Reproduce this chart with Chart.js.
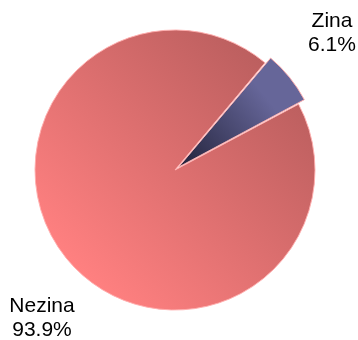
<!DOCTYPE html>
<html>
<head>
<meta charset="utf-8">
<title>Zina / Nezina</title>
<script src="https://cdn.jsdelivr.net/npm/chart.js@4/dist/chart.umd.min.js"></script>
<style>
    html, body { margin: 0; padding: 0; background: #ffffff; }
    #wrap { width: 358px; height: 340px; position: relative; }
</style>
</head>
<body>
<div id="wrap"><canvas id="pie"></canvas></div>
<script>
// Share of answers
const categories = ['Zina', 'Nezina'];
const shares = [6.1, 93.9];
const shareLabels = ['6.1%', '93.9%'];

// Gradient stops per slice: [dark, light]
const sliceColors = [
    ['#22223a', '#666699'],
    ['#bc5f5f', '#ff8080']
];

// Where each two-line label sits (text centre x, first baseline y)
const labelSpots = [
    { x: 332, y: 27 },
    { x: 42, y: 312 }
];

const ROTATION = 40;
const RADIUS = 140;

function sliceFill(context) {
    const chart = context.chart;
    const area = chart.chartArea;
    if (!area) return sliceColors[context.dataIndex][1];
    const ctx = chart.ctx;
    const x = (area.left + area.right) / 2;
    const y = (area.top + area.bottom) / 2;
    const r = RADIUS;
    let g;
    if (context.dataIndex === 0) {
        // small slice: dark at the tip, lighter towards the rim
        const total = shares.reduce((a, b) => a + b, 0);
        const start = (ROTATION - 90) * Math.PI / 180;
        const mid = start + Math.PI * shares[0] / total;
        g = ctx.createLinearGradient(x, y, x + Math.cos(mid) * r, y + Math.sin(mid) * r);
        g.addColorStop(0, sliceColors[0][0]);
        g.addColorStop(0.8, sliceColors[0][1]);
        g.addColorStop(1, sliceColors[0][1]);
    } else {
        // big slice: darker top right, lighter bottom left
        g = ctx.createLinearGradient(x + r * 0.7, y - r * 0.7, x - r * 0.7, y + r * 0.7);
        g.addColorStop(0, sliceColors[1][0]);
        g.addColorStop(1, sliceColors[1][1]);
    }
    return g;
}

const outsideLabels = {
    id: 'outsideLabels',
    afterDraw(chart) {
        const ctx = chart.ctx;
        ctx.save();
        ctx.font = '21px "Liberation Sans", Arial, sans-serif';
        ctx.fillStyle = '#000000';
        ctx.textAlign = 'center';
        ctx.textBaseline = 'alphabetic';
        categories.forEach((name, i) => {
            const spot = labelSpots[i];
            ctx.fillText(name, spot.x, spot.y);
            ctx.fillText(shareLabels[i], spot.x, spot.y + 24);
        });
        ctx.restore();
    }
};

new Chart(document.getElementById('pie'), {
    type: 'pie',
    data: {
        labels: categories,
        datasets: [{
            data: shares,
            backgroundColor: sliceFill,
            borderColor: 'rgba(255, 175, 175, 0.95)',
            borderWidth: 1,
            offset: [18, 0]
        }]
    },
    options: {
        responsive: true,
        maintainAspectRatio: false,
        animation: false,
        rotation: ROTATION,
        radius: RADIUS,
        layout: { padding: { left: 20, right: 28, top: 20, bottom: 20 } },
        plugins: {
            legend: { display: false },
            tooltip: { enabled: false }
        }
    },
    plugins: [outsideLabels]
});
</script>
</body>
</html>
